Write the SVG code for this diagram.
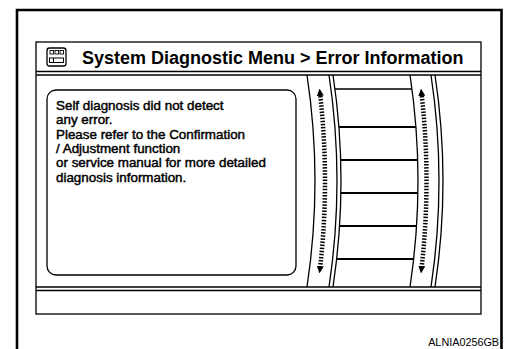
<svg xmlns="http://www.w3.org/2000/svg" width="507" height="349" viewBox="0 0 507 349">
  <style>
    .ln { fill: none; stroke: #000; stroke-width: 1.3; }
    .thick { fill: none; stroke: #000; stroke-width: 2.2; }
    .frame { fill: none; stroke: #000; stroke-width: 2.6; }
    .dash { fill: none; stroke: #000; stroke-width: 4.5; stroke-dasharray: 1.5 1.6; marker-start: url(#ah); marker-end: url(#ah); }
    .title { font-family: "Liberation Sans", Arial, sans-serif; font-weight: bold; font-size: 18px; fill: #000; }
    .body { font-family: "Liberation Sans", Arial, sans-serif; font-size: 13.4px; fill: #000; stroke: #000; stroke-width: 0.45; }
    .code { font-family: "Liberation Sans", Arial, sans-serif; font-size: 10.8px; fill: #000; }
  </style>
  <defs>
    <marker id="ah" markerUnits="userSpaceOnUse" markerWidth="7.5" markerHeight="7" viewBox="0 0 7.5 7" refX="0" refY="3.5" orient="auto-start-reverse">
      <path d="M0,0 L7.5,3.5 L0,7 z" fill="#000"/>
    </marker>
  </defs>
  <rect width="507" height="349" fill="#fff"/>

  <g id="frame">
    <path class="frame" d="M17,349 V10 H501.5 V349"/>
  </g>

  <g id="screen">
    <rect class="ln" x="36" y="42" width="445" height="272"/>
    <line class="ln" x1="36" y1="71.5" x2="481" y2="71.5"/>
    <line class="ln" x1="36" y1="75" x2="481" y2="75"/>
    <line class="ln" x1="36" y1="287" x2="481" y2="287"/>
    <line class="ln" x1="36" y1="290.5" x2="481" y2="290.5"/>
  </g>

  <g id="title-bar">
    <g id="menu-icon">
      <rect x="47" y="48" width="19" height="18" rx="2.5" fill="none" stroke="#000" stroke-width="1.3"/>
      <rect x="50" y="50.5" width="3.5" height="3.5" fill="none" stroke="#000" stroke-width="0.9"/>
      <rect x="55" y="50.5" width="3.5" height="3.5" fill="none" stroke="#000" stroke-width="0.9"/>
      <rect x="60" y="50.5" width="3.5" height="3.5" fill="none" stroke="#000" stroke-width="0.9"/>
      <rect x="49.5" y="58" width="14" height="4.5" fill="none" stroke="#000" stroke-width="1"/>
      <line x1="53.5" y1="58" x2="53.5" y2="62.5" stroke="#000" stroke-width="1"/>
    </g>
    <text class="title" x="82" y="64">System Diagnostic Menu &gt; Error Information</text>
  </g>

  <g id="message-box">
    <rect class="ln" x="47" y="90" width="249" height="185" rx="9"/>
    <text class="body" x="56" y="110">Self diagnosis did not detect</text>
    <text class="body" x="56" y="124.3">any error.</text>
    <text class="body" x="56" y="138.6">Please refer to the Confirmation</text>
    <text class="body" x="56" y="152.9">/ Adjustment function</text>
    <text class="body" x="56" y="167.2">or service manual for more detailed</text>
    <text class="body" x="56" y="181.5">diagnosis information.</text>
  </g>

  <g id="scroll-left">
    <path class="ln" d="M307,75 Q323,181 307,287"/>
    <path class="ln" d="M329,75 Q345,181 329,287"/>
    <path class="ln" d="M333,75 Q349,181 333,287"/>
    <path class="dash" d="M320.3,96 Q329.7,181 320.3,266"/>
  </g>

  <g id="list-rows">
    <line class="ln" x1="335" y1="89" x2="412" y2="89"/>
    <line class="thick" x1="338.9" y1="127" x2="415.9" y2="127"/>
    <line class="thick" x1="340.7" y1="160" x2="417.7" y2="160"/>
    <line class="thick" x1="340.9" y1="193" x2="417.9" y2="193"/>
    <line class="thick" x1="339.6" y1="226" x2="416.6" y2="226"/>
    <line class="thick" x1="336.7" y1="259" x2="413.7" y2="259"/>
  </g>

  <g id="scroll-right">
    <path class="ln" d="M410,75 Q426,181 410,287"/>
    <path class="ln" d="M431,75 Q447,181 431,287"/>
    <path class="ln" d="M435,75 Q451,181 435,287"/>
    <path class="dash" d="M421.8,96 Q431.2,181 421.8,266"/>
  </g>

  <g id="connectors"></g>

  <g id="label">
    <text class="code" x="499" y="346" text-anchor="end">ALNIA0256GB</text>
  </g>
</svg>
